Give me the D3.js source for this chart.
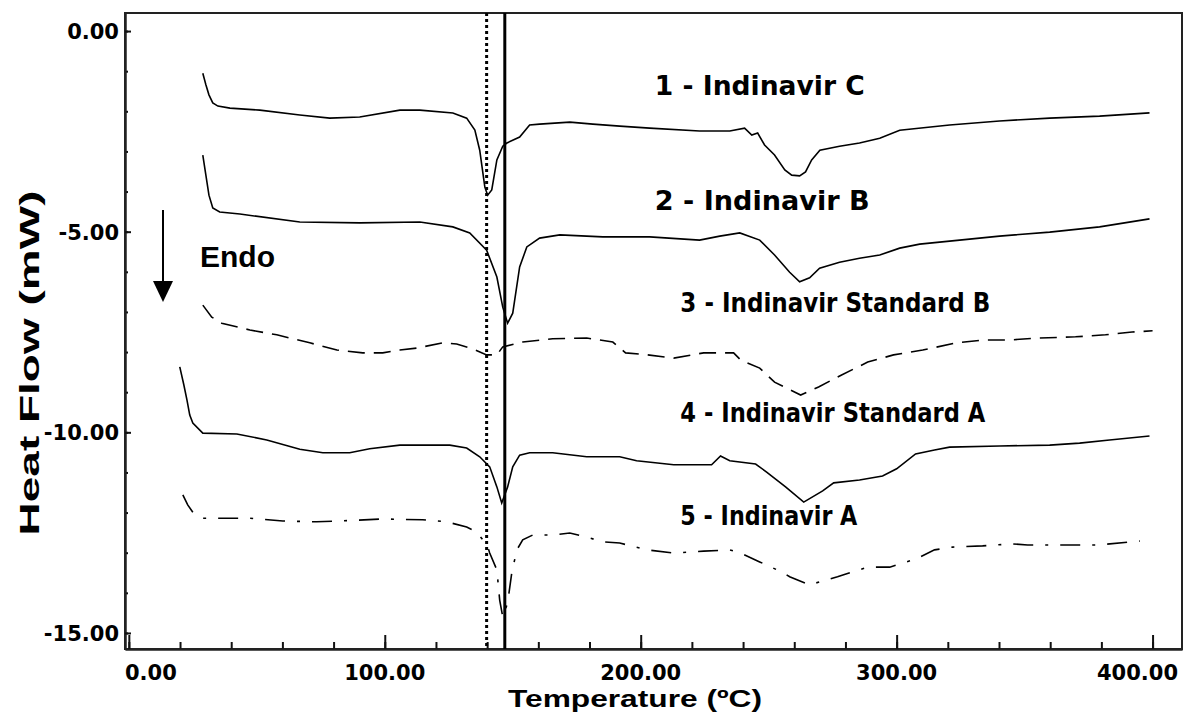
<!DOCTYPE html>
<html>
<head>
<meta charset="utf-8">
<script src="https://cdn.jsdelivr.net/npm/d3@7"></script>
<style>
  body { margin: 0; background: #fff; }
  svg { display: block; }
</style>
</head>
<body>
<svg id="chart" width="1183" height="721"></svg>
<script>
// DSC thermograms: [temperature (°C), heat flow (mW)]
const indinavirC = [
  [28.9,-1.05],[30.1,-1.34],[31.3,-1.59],[32.8,-1.79],[34.8,-1.87],[39.5,-1.92],[51.2,-1.97],
  [66.8,-2.09],[78.5,-2.17],[90.2,-2.14],[105.9,-1.97],[113.7,-1.97],[126.6,-2.04],[132.0,-2.17],
  [135.2,-2.47],[137.1,-2.97],[139.1,-3.89],[140.2,-4.09],[141.8,-3.96],[143.8,-3.21],[146.1,-2.87],
  [147.7,-2.79],[152.7,-2.64],[156.6,-2.34],[160.5,-2.32],[172.3,-2.27],[181.3,-2.32],[191.8,-2.37],
  [203.5,-2.42],[223.0,-2.49],[234.8,-2.49],[240.6,-2.42],[243.4,-2.59],[245.7,-2.54],[248.4,-2.84],
  [252.3,-3.09],[256.3,-3.46],[259.0,-3.59],[262.1,-3.61],[264.4,-3.51],[266.8,-3.21],[270.0,-2.97],
  [277.7,-2.87],[285.5,-2.79],[293.4,-2.67],[301.2,-2.47],[320.7,-2.34],[340.2,-2.24],[359.8,-2.17],
  [379.3,-2.12],[398.8,-2.04]
];
const indinavirB = [
  [28.9,-3.09],[30.1,-3.59],[31.3,-4.09],[32.8,-4.41],[35.5,-4.51],[43.4,-4.56],[66.8,-4.76],
  [90.2,-4.78],[113.7,-4.76],[126.6,-4.88],[133.2,-5.03],[139.8,-5.46],[143.8,-6.13],[146.1,-6.88],
  [148.0,-7.28],[150.0,-7.03],[152.7,-5.88],[155.5,-5.38],[160.5,-5.16],[168.4,-5.08],[185.2,-5.13],
  [203.5,-5.13],[223.0,-5.21],[230.9,-5.11],[238.7,-5.03],[246.5,-5.21],[252.3,-5.58],[258.2,-6.01],
  [262.1,-6.25],[266.0,-6.15],[269.9,-5.91],[277.7,-5.76],[285.5,-5.66],[293.4,-5.58],[301.2,-5.41],
  [309.0,-5.31],[324.6,-5.21],[340.2,-5.11],[359.8,-5.01],[379.3,-4.88],[398.8,-4.68]
];
const standardB = [
  [28.9,-6.83],[32.4,-7.13],[36.3,-7.28],[47.3,-7.45],[57.8,-7.57],[70.7,-7.77],[81.3,-7.95],
  [91.4,-8.02],[99.2,-8.02],[105.9,-7.95],[112.5,-7.90],[122.7,-7.77],[128.1,-7.80],[134.4,-7.92],
  [139.8,-8.07],[143.8,-8.07],[146.1,-7.87],[153.9,-7.75],[165.6,-7.67],[178.9,-7.65],[189.1,-7.75],
  [194.1,-8.02],[202.7,-8.07],[212.9,-8.15],[224.6,-8.02],[236.3,-8.02],[239.1,-8.20],[246.5,-8.40],
  [252.3,-8.75],[262.5,-9.07],[269.5,-8.87],[278.5,-8.57],[288.7,-8.25],[298.8,-8.07],[310.2,-7.95],
  [323.4,-7.77],[333.6,-7.70],[343.8,-7.70],[355.5,-7.65],[369.9,-7.62],[381.6,-7.57],[392.0,-7.50],
  [400.0,-7.47]
];
const standardA = [
  [19.9,-8.37],[21.5,-8.82],[22.7,-9.19],[23.8,-9.57],[25.0,-9.77],[28.9,-10.02],[42.2,-10.04],
  [53.9,-10.19],[66.8,-10.42],[75.8,-10.51],[86.3,-10.51],[94.1,-10.41],[105.9,-10.32],[125.4,-10.32],
  [132.0,-10.39],[137.1,-10.61],[141.0,-10.86],[143.8,-11.36],[145.7,-11.76],[148.0,-11.36],
  [150.0,-10.86],[152.7,-10.57],[156.6,-10.51],[165.6,-10.51],[178.9,-10.61],[191.8,-10.61],
  [198.4,-10.71],[212.9,-10.81],[227.7,-10.81],[231.2,-10.59],[234.8,-10.71],[244.9,-10.79],
  [249.2,-10.99],[256.6,-11.36],[263.7,-11.74],[271.1,-11.46],[275.4,-11.26],[285.5,-11.19],
  [294.5,-11.09],[300.0,-10.91],[307.4,-10.54],[314.8,-10.44],[320.7,-10.37],[340.2,-10.34],
  [359.8,-10.32],[371.5,-10.27],[383.2,-10.19],[398.8,-10.09]
];
const indinavirA = [
  [21.1,-11.56],[23.0,-11.81],[25.0,-11.99],[28.9,-12.14],[47.3,-12.14],[60.2,-12.21],[73.4,-12.23],
  [82.4,-12.21],[99.2,-12.16],[114.8,-12.18],[124.2,-12.23],[132.0,-12.36],[135.9,-12.48],
  [138.3,-12.68],[139.8,-12.76],[141.0,-13.01],[143.8,-13.43],[144.9,-14.18],[146.1,-14.60],
  [148.0,-14.25],[149.6,-13.51],[151.6,-12.93],[153.9,-12.68],[157.8,-12.56],[165.6,-12.56],
  [172.3,-12.51],[178.9,-12.61],[185.2,-12.73],[191.8,-12.76],[202.7,-12.93],[212.9,-13.01],
  [224.6,-12.96],[234.8,-12.93],[239.1,-13.01],[246.5,-13.23],[255.1,-13.48],[258.2,-13.60],
  [266.0,-13.80],[276.9,-13.60],[288.7,-13.36],[297.3,-13.36],[307.4,-13.16],[314.8,-12.93],
  [321.9,-12.86],[333.6,-12.83],[345.3,-12.78],[351.2,-12.81],[365.6,-12.81],[378.5,-12.81],
  [391.8,-12.73],[395.0,-12.71]
];

const seriesNames = ["1 - Indinavir C", "2 - Indinavir B", "3 - Indinavir Standard B",
                     "4 - Indinavir Standard A", "5 - Indinavir A"];
// label anchor in data units: [temperature, heat flow]
const labelAnchors = [[205.5,-1.6], [205.5,-4.45], [215.5,-7.0], [215.5,-9.75], [215.5,-12.3]];
const markerTemps = [139.8, 146.9];   // dotted, solid reference lines

const xTickValues = [0, 100, 200, 300, 400];
const xTickLabels = ["0.00", "100.00", "200.00", "300.00", "400.00"];
const yTickValues = [0, -5, -10, -15];
const yTickLabels = ["0.00", "-5.00", "-10.00", "-15.00"];

const svg = d3.select("#chart");
const plotLeft = 125, plotRight = 1182, plotTop = 13, plotBottom = 649;

const x = d3.scaleLinear().domain([-1.5, 411.5]).range([plotLeft, plotRight]);
const y = d3.scaleLinear().domain([0.45, -15.4]).range([plotTop, plotBottom]);

// frame
svg.append("rect")
  .attr("x", plotLeft).attr("y", plotTop)
  .attr("width", plotRight - plotLeft).attr("height", plotBottom - plotTop)
  .attr("fill", "none").attr("stroke", "#222").attr("stroke-width", 2);

// x axis ticks (drawn inward)
const gx = svg.append("g").attr("transform", `translate(0,${plotBottom})`);
gx.call(d3.axisBottom(x).tickValues(d3.range(0, 401, 20)).tickSize(-7).tickFormat("").tickSizeOuter(0));
gx.append("g").call(d3.axisBottom(x).tickValues(xTickValues).tickSize(-14).tickFormat("").tickSizeOuter(0));
gx.selectAll("path.domain").attr("stroke", "#222").attr("stroke-width", 2);
gx.selectAll(".tick line").attr("stroke", "#111").attr("stroke-width", 2);

// y axis ticks (drawn inward)
const gy = svg.append("g").attr("transform", `translate(${plotLeft},0)`);
gy.call(d3.axisLeft(y).tickValues(d3.range(-15, 1, 1)).tickSize(-3).tickFormat("").tickSizeOuter(0));
gy.append("g").call(d3.axisLeft(y).tickValues(yTickValues).tickSize(-6).tickFormat("").tickSizeOuter(0));
gy.selectAll("path.domain").attr("stroke", "#222").attr("stroke-width", 2);
gy.selectAll(".tick line").attr("stroke", "#111").attr("stroke-width", 2);

const tickFont = "'DejaVu Sans', sans-serif";
const titleFont = "'Liberation Sans', Arial, sans-serif";

// x tick labels
svg.append("g").selectAll("text").data(xTickValues).join("text")
  .attr("x", (d, i) => i === 0 ? plotLeft : (i === xTickValues.length - 1 ? plotRight - 4 : x(d)))
  .attr("y", 680)
  .attr("text-anchor", (d, i) => i === 0 ? "start" : (i === xTickValues.length - 1 ? "end" : "middle"))
  .attr("font-family", tickFont).attr("font-weight", "bold").attr("font-size", 21)
  .attr("fill", "#000")
  .text((d, i) => xTickLabels[i]);

// y tick labels
svg.append("g").selectAll("text").data(yTickValues).join("text")
  .attr("x", 119).attr("y", d => y(d) + 8)
  .attr("text-anchor", "end")
  .attr("font-family", tickFont).attr("font-weight", "bold").attr("font-size", 21)
  .attr("fill", "#000")
  .text((d, i) => yTickLabels[i]);

// axis titles
svg.append("text")
  .attr("x", 508).attr("y", 707)
  .attr("textLength", 254).attr("lengthAdjust", "spacingAndGlyphs")
  .attr("font-family", titleFont).attr("font-weight", "bold")
  .attr("font-size", 23.5).text("Temperature (ºC)");

svg.append("text")
  .attr("transform", "translate(39,363) rotate(-90)")
  .attr("text-anchor", "middle")
  .attr("textLength", 345).attr("lengthAdjust", "spacingAndGlyphs")
  .attr("font-family", titleFont).attr("font-weight", "bold")
  .attr("font-size", 28).text("Heat Flow (mW)");

// reference temperature lines
svg.append("line")
  .attr("x1", x(markerTemps[0])).attr("x2", x(markerTemps[0]))
  .attr("y1", plotTop).attr("y2", plotBottom)
  .attr("stroke", "#000").attr("stroke-width", 3).attr("stroke-dasharray", "3,3");
svg.append("line")
  .attr("x1", x(markerTemps[1])).attr("x2", x(markerTemps[1]))
  .attr("y1", plotTop).attr("y2", plotBottom)
  .attr("stroke", "#000").attr("stroke-width", 3);

// thermogram traces
const line = d3.line().x(d => x(d[0])).y(d => y(d[1]));
const traces = [
  { data: indinavirC, dash: null },
  { data: indinavirB, dash: null },
  { data: standardB, dash: "17,9" },
  { data: standardA, dash: null },
  { data: indinavirA, dash: "20,12,3,12" }
];
svg.append("g").selectAll("path").data(traces).join("path")
  .attr("d", d => line(d.data))
  .attr("fill", "none").attr("stroke", "#000").attr("stroke-width", 1.6)
  .attr("stroke-dasharray", d => d.dash);

// trace labels
svg.append("g").selectAll("text").data(seriesNames).join("text")
  .attr("x", (d, i) => x(labelAnchors[i][0]))
  .attr("y", (d, i) => y(labelAnchors[i][1]))
  .attr("font-family", tickFont).attr("font-weight", "bold").attr("font-size", 26)
  .attr("fill", "#000")
  .attr("textLength", (d, i) => [210, 215, 310, 305, 177][i])
  .attr("lengthAdjust", "spacingAndGlyphs")
  .text(d => d);

// endotherm direction arrow
svg.append("line").attr("x1", 163).attr("x2", 163).attr("y1", 210).attr("y2", 284)
  .attr("stroke", "#000").attr("stroke-width", 2);
svg.append("path").attr("d", "M153,281 L173,281 L163,302 Z").attr("fill", "#000");
svg.append("text").attr("x", 200).attr("y", 267)
  .attr("font-family", titleFont).attr("font-weight", "bold")
  .attr("font-size", 30).text("Endo");
</script>
</body>
</html>
